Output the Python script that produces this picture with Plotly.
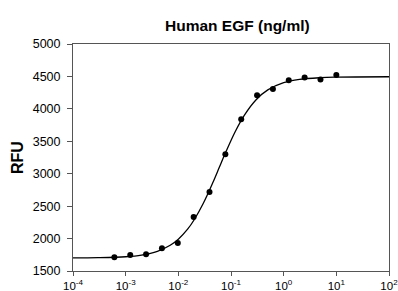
import plotly.graph_objects as go

# Measured points: 2-fold dilutions of Human EGF (ng/ml)
conc = [10 / 2**i for i in range(14, -1, -1)]
rfu = [1711, 1747, 1758, 1850, 1932, 2333, 2718, 3300, 3839, 4209, 4306, 4441, 4482, 4451, 4522]

# Fitted curve values
curve_x = [1e-4, 3e-4, 1e-3, 2e-3, 4e-3, 7e-3, 1e-2, 0.015, 0.02, 0.03, 0.045, 0.06,
           0.08, 0.12, 0.18, 0.3, 0.5, 1, 2, 5, 10, 100]
curve_y = [1701, 1705, 1720, 1746, 1804, 1897, 1991, 2145, 2290, 2548, 2859, 3098,
           3337, 3648, 3904, 4141, 4292, 4403, 4454, 4481, 4489, 4495]

x_tickvals = [1e-4, 1e-3, 1e-2, 1e-1, 1, 10, 100]
x_ticktext = ["10<sup>-4</sup>", "10<sup>-3</sup>", "10<sup>-2</sup>", "10<sup>-1</sup>",
              "10<sup>0</sup>", "10<sup>1</sup>", "10<sup>2</sup>"]
y_tickvals = [1500, 2000, 2500, 3000, 3500, 4000, 4500, 5000]

W, H = 398, 291
L, R, T, B = 73, 9, 44, 20

fig = go.Figure()
fig.add_trace(go.Scatter(x=curve_x, y=curve_y, mode="lines",
                         line=dict(color="black", width=1.3, shape="spline", smoothing=1),
                         hoverinfo="skip", showlegend=False))
fig.add_trace(go.Scatter(x=conc, y=rfu, mode="markers",
                         marker=dict(color="black", size=6), showlegend=False))

fam = "Liberation Sans, Arial, sans-serif"
fig.update_layout(
    width=W, height=H,
    margin=dict(l=L, r=R, t=T, b=B, autoexpand=False),
    paper_bgcolor="white", plot_bgcolor="white",
    xaxis=dict(type="log", range=[-4, 2], tickvals=x_tickvals, ticktext=x_ticktext,
               showgrid=False, zeroline=False, showline=True, linecolor="#555", linewidth=1,
               mirror=True, ticks="outside", ticklen=4, tickcolor="#555",
               tickfont=dict(family=fam, size=11.5, color="black"),
               automargin=False, ticklabeloverflow="allow"),
    yaxis=dict(range=[1500, 5000], tickvals=y_tickvals, showgrid=False, zeroline=False,
               showline=True, linecolor="#555", linewidth=1, mirror=True,
               ticks="outside", ticklen=5, tickcolor="#555", ticklabelstandoff=4,
               tickfont=dict(family=fam, size=12.5, color="black"),
               automargin=False, ticklabeloverflow="allow"),
    annotations=[
        dict(text="<b>Human EGF (ng/ml)</b>", xref="paper", yref="paper",
             x=(237 - L) / (W - L - R), y=1 + (T - 25) / (H - T - B),
             xanchor="center", yanchor="middle", showarrow=False,
             font=dict(family=fam, size=15.5, color="black")),
        dict(text="<b>RFU</b>", xref="paper", yref="paper",
             x=(17.5 - L) / (W - L - R), y=0.5, textangle=-90,
             xanchor="center", yanchor="middle", showarrow=False,
             font=dict(family=fam, size=16, color="black")),
    ],
)

fig.write_html("out.html", config={"displayModeBar": False},
               post_script="document.body.style.margin='0';document.body.style.overflow='hidden';")
